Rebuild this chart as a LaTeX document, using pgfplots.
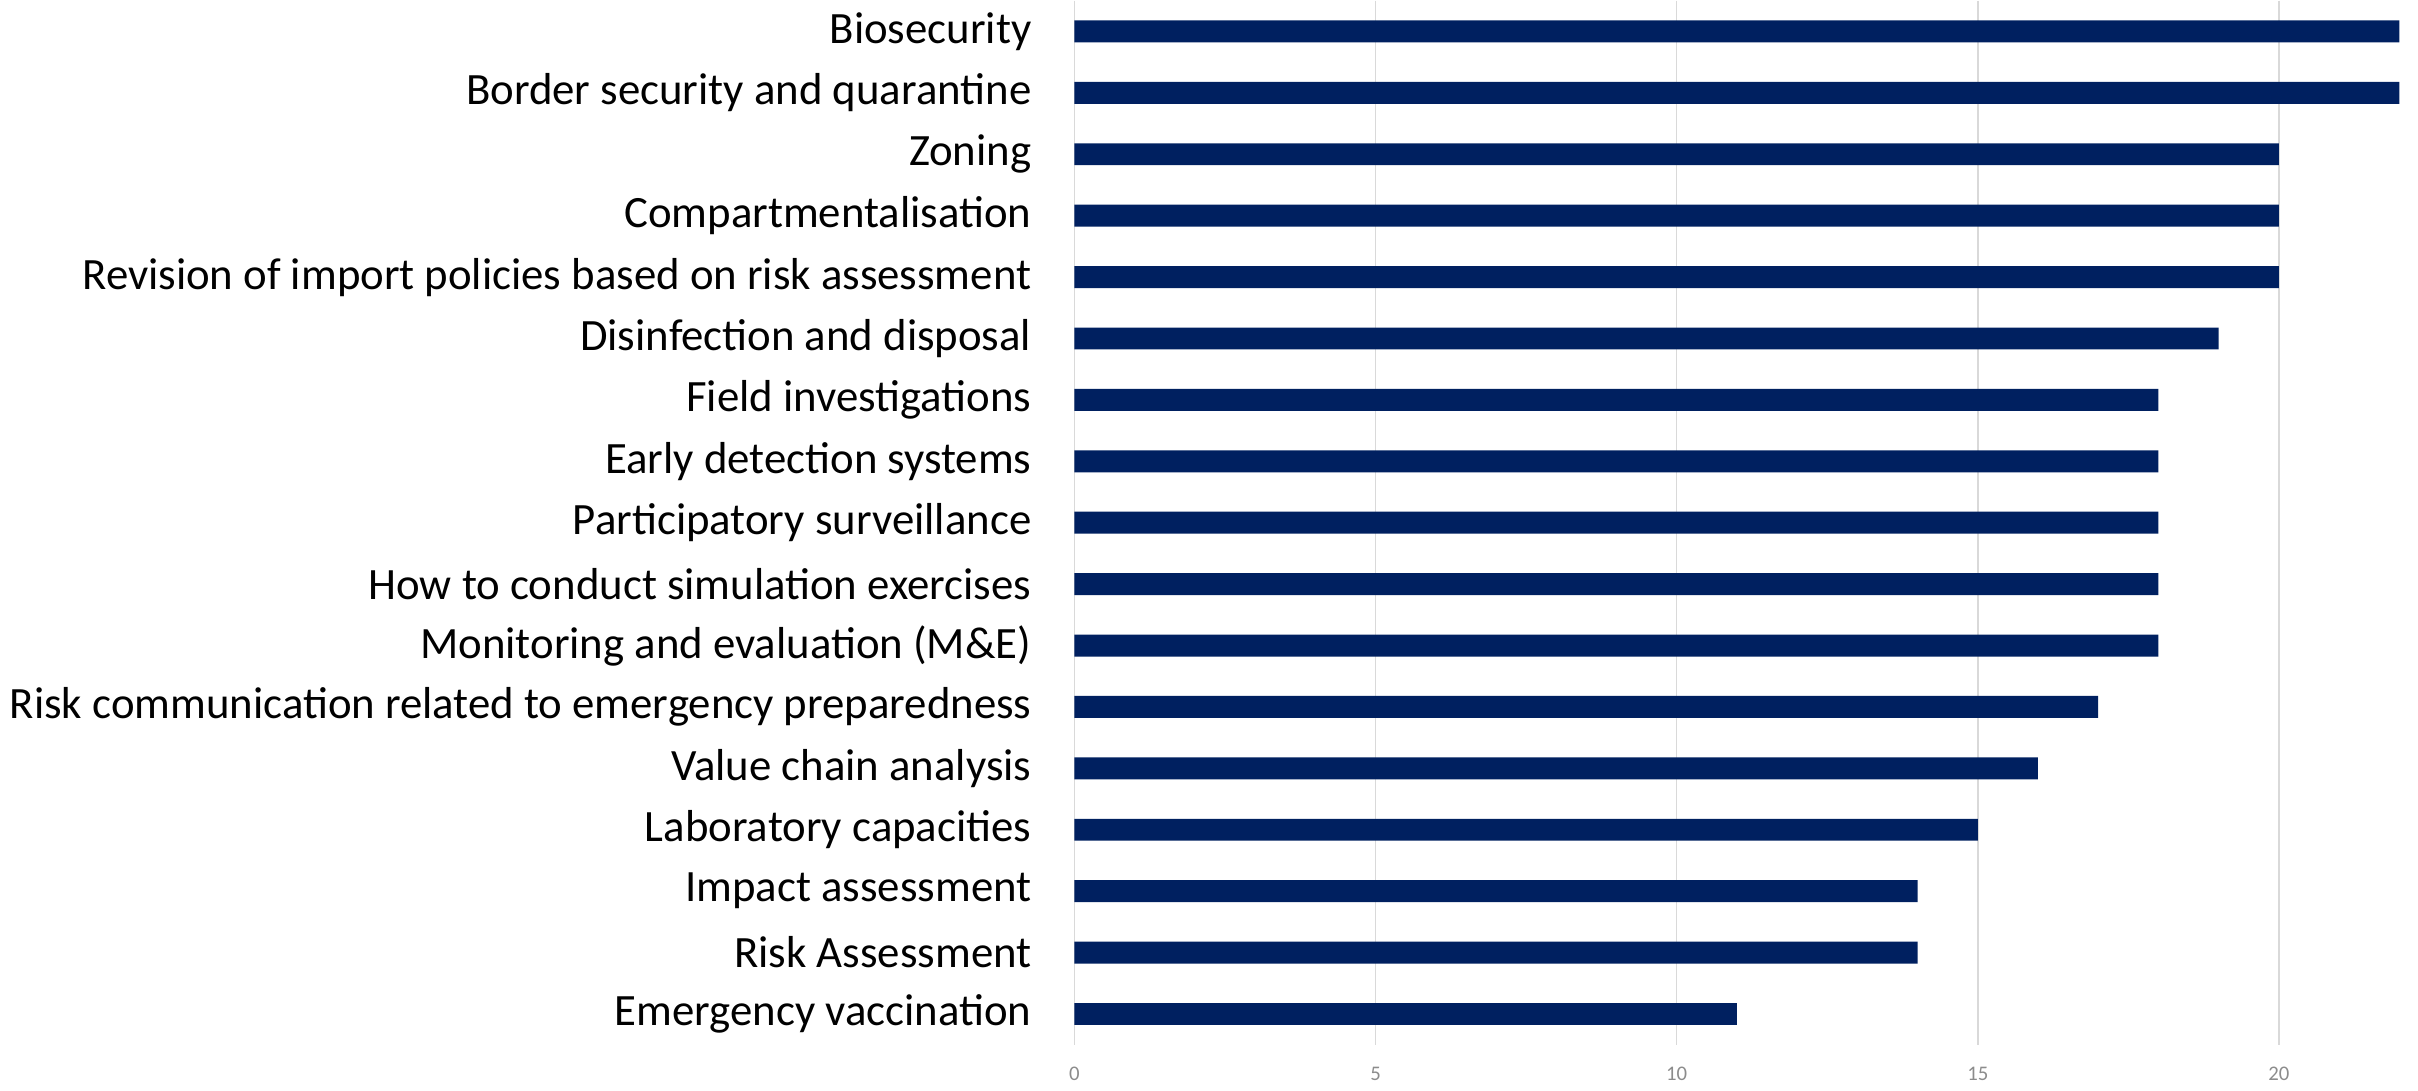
\documentclass[border=0pt]{standalone}
\usepackage{pgfplots}
\pgfplotsset{compat=1.18}
\usepackage{fontspec}
\setmainfont{Carlito}
\definecolor{barblue}{HTML}{002060}
\definecolor{gridgray}{HTML}{D9D9D9}
\definecolor{tickgray}{HTML}{8C8C8C}
\begin{document}
\begin{tikzpicture}
\begin{axis}[
  scale only axis,
  width=446.7pt, height=352pt,
  xbar, bar width=7.4pt,
  xmin=0, xmax=22,
  ymin=-0.5, ymax=16.5,
  y dir=reverse,
  axis line style={draw=none},
  xtick={0,5,10,15,20},
  xmajorgrids, major grid style={gridgray, line width=0.5pt},
  major tick length=0pt,
  ytick={0,...,16},
  yticklabels={Biosecurity,Border security and quarantine,Zoning,Compartmentalisation,Revision of import policies based on risk assessment,Disinfection and disposal,Field investigations,Early detection systems,Participatory surveillance,How to conduct simulation exercises,Monitoring and evaluation (M\&E),Risk communication related to emergency preparedness,Value chain analysis,Laboratory capacities,Impact assessment,Risk Assessment,Emergency vaccination},
  yticklabel style={font=\fontsize{15.1}{18}\selectfont, text=black},
  xticklabel style={font=\fontsize{7}{8}\selectfont, text=tickgray},
  /pgf/number format/assume math mode=true,
  y tick label style={xshift=-11pt},
  x tick label style={yshift=-4pt},
  clip=false,
]
\addplot[fill=barblue, draw=none] coordinates {
(22,0) (22,1) (20,2) (20,3) (20,4) (19,5) (18,6) (18,7) (18,8) (18,9) (18,10) (17,11) (16,12) (15,13) (14,14) (14,15) (11,16)
};
\path (rel axis cs:1,1) -- ++(6.3pt,0);
\end{axis}
\end{tikzpicture}
\end{document}
